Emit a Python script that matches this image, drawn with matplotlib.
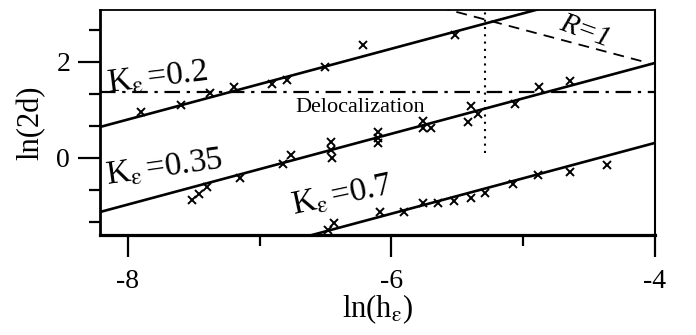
import numpy as np
import matplotlib
matplotlib.use("Agg")
import matplotlib.pyplot as plt

plt.rcParams['font.family'] = ['Liberation Serif', 'DejaVu Serif']
plt.rcParams['mathtext.fontset'] = 'stix'

# ---- data ----
k02_x = [-7.903, -7.594, -7.375, -7.196, -6.905, -6.794, -6.502, -6.214, -5.517]
k02_y = [0.948, 1.104, 1.344, 1.469, 1.542, 1.635, 1.902, 2.354, 2.563]

k035_x = [-7.515, -7.459, -7.400, -7.147, -6.823, -6.766, -6.461, -6.457, -6.454,
          -6.103, -6.103, -6.101, -5.763, -5.763, -5.700, -5.422, -5.395, -5.344,
          -5.065, -4.877, -4.646]
k035_y = [-0.885, -0.746, -0.604, -0.423, -0.135, 0.056, 0.340, 0.177, -0.006,
          0.538, 0.417, 0.306, 0.767, 0.619, 0.619, 0.740, 1.083, 0.917,
          1.115, 1.479, 1.604]

k07_x = [-6.484, -6.436, -6.088, -5.905, -5.763, -5.649, -5.522, -5.395, -5.291,
         -5.078, -4.887, -4.646, -4.367]
k07_y = [-1.50, -1.36, -1.135, -1.119, -0.944, -0.938, -0.892, -0.833, -0.736,
         -0.535, -0.354, -0.285, -0.140]

fit_slope = 0.737
fit_x0 = -8.2125
fit_intercepts = [0.646, -1.125, -2.79]   # value at x0 for K=0.2, 0.35, 0.7

deloc_y = 1.375
dotted_x = -5.29
dotted_ymin = 0.1
r1_x = [-5.64, -4.05]
r1_y = [3.14, 1.98]

xlim = (-8.2125, -4.0)
ylim = (-1.604, 3.083)

# ---- figure ----
fig = plt.figure(figsize=(6.96, 3.35), dpi=100)
ax = fig.add_axes([100/696, 1-235/335, 555/696, 225/335])
ax.set_xlim(*xlim)
ax.set_ylim(*ylim)

xx = np.array(xlim)
for b in fit_intercepts:
    ax.plot(xx, b + fit_slope*(xx - fit_x0), color='black', lw=1.9, solid_capstyle='butt')

for xs, ys in [(k02_x, k02_y), (k035_x, k035_y), (k07_x, k07_y)]:
    ax.plot(xs, ys, linestyle='none', marker='x', ms=5.5, mew=1.4, color='black')

ax.axhline(deloc_y, color='black', lw=1.6, dashes=(7, 3, 1.5, 3))
ax.plot([dotted_x, dotted_x], [dotted_ymin, ylim[1]], color='black', lw=1.5,
        dashes=(1, 2.5))
ax.plot(r1_x, r1_y, color='black', lw=1.3, dashes=(6, 4))

ax.text(-6.728, 0.958, 'Delocalization', fontsize=16, ha='left', va='baseline')
ax.text(-4.534, 2.646, 'R=1', fontsize=21, style='italic', rotation=-20,
        ha='center', va='center', rotation_mode='anchor')
lab = r'K$_{\mathrm{\varepsilon}}\,$=%s'
ax.text(-8.152, 1.354, lab % '0.2', fontsize=24, rotation=7,
        ha='left', va='baseline', rotation_mode='anchor')
ax.text(-8.160, -0.5625, lab % '0.35', fontsize=24, rotation=8,
        ha='left', va='baseline', rotation_mode='anchor')
ax.text(-6.743, -1.1875, lab % '0.7', fontsize=24, rotation=12,
        ha='left', va='baseline', rotation_mode='anchor')

ax.set_xticks([-8, -6, -4])
ax.set_xticklabels(['-8', '-6', '-4'])
ax.set_xticks([-7, -5], minor=True)
ax.set_yticks([0, 2])
ax.set_yticklabels(['0', '2'])
ax.set_yticks([-4/3, -2/3, 2/3, 4/3, 8/3], minor=True)
ax.tick_params(which='major', direction='out', length=15.5, width=1.6,
               labelsize=20, pad=6)
ax.tick_params(which='minor', direction='out', length=8, width=1.6)
ax.tick_params(axis='x', which='major', pad=9)

for side, lw in [('bottom', 2.3), ('left', 2.0), ('top', 1.3), ('right', 1.5)]:
    ax.spines[side].set_linewidth(lw)

ax.set_xlabel(r'ln(h$_{\mathrm{\varepsilon}}$)', fontsize=22, labelpad=-1)
ax.set_ylabel('ln(2d)', fontsize=22, labelpad=8)

fig.savefig('out.png', dpi=100)
